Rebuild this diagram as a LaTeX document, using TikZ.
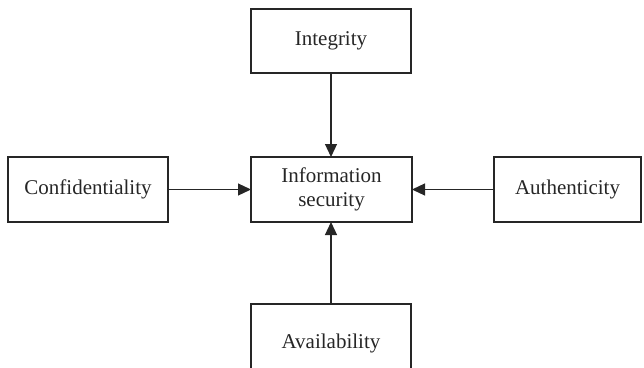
\documentclass[tikz,border=0pt]{standalone}
\usepackage{fontspec}
\setmainfont{Liberation Serif}
\usetikzlibrary{arrows.meta}
\begin{document}
\begin{tikzpicture}[x=1pt,y=-1pt,
  ink/.style={draw=black!85},
  frame/.style={ink, line width=1.2pt},
  label/.style={inner sep=0pt, align=center,
    font=\fontsize{21}{24}\selectfont, text=black!85},
  link/.style={ink, line width=1.2pt, -{Triangle[length=13pt,width=12pt]}}]
  \useasboundingbox (0,0) rectangle (644,367);
  \clip (0,0) rectangle (644,367);
  % boxes
  \draw[frame] (251,9) rectangle (411,73);
  \draw[frame] (251,157) rectangle (412,222);
  \draw[frame] (8,157) rectangle (168,222);
  \draw[frame] (494,157) rectangle (641,222);
  \draw[frame] (251,304) rectangle (411,390);
  % labels
  \node[label] (integ) at (331,41) {Integrity};
  \node[label] (info) at (331.5,189.5) {Information\\security};
  \node[label] (conf) at (88,189.5) {Confidentiality};
  \node[label] (auth) at (567.5,189.5) {Authenticity};
  \node[label] (avail) at (331,343) {Availability};
  % box edge points
  \coordinate (integB) at (331,73);
  \coordinate (infoT) at (331,157);
  \coordinate (infoB) at (331,222);
  \coordinate (infoL) at (251,189.5);
  \coordinate (infoR) at (412,189.5);
  \coordinate (confR) at (168,189.5);
  \coordinate (authL) at (494,189.5);
  \coordinate (availT) at (331,304);
  % connectors
  \draw[link] (integB) -- (infoT);
  \draw[link] (confR) -- (infoL);
  \draw[link] (authL) -- (infoR);
  \draw[link] (availT) -- (infoB);
\end{tikzpicture}
\end{document}
